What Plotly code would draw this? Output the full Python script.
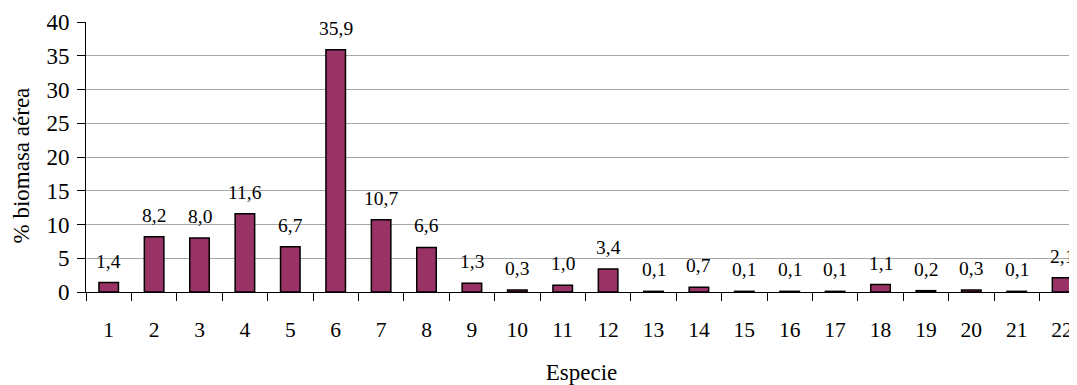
import plotly.graph_objects as go

categories = [str(i) for i in range(1, 23)]
values = [1.4, 8.2, 8.0, 11.6, 6.7, 35.9, 10.7, 6.6, 1.3, 0.3, 1.0, 3.4,
          0.1, 0.7, 0.1, 0.1, 0.1, 1.1, 0.2, 0.3, 0.1, 2.1]
value_labels = [f"{v:.1f}".replace(".", ",") for v in values]
y_ticks = [0, 5, 10, 15, 20, 25, 30, 35, 40]

FONT = "Liberation Serif, Times New Roman, serif"
FS_XTICK = 21.5
FS_YTICK = 23
FS_LABEL = 19.5
FS_TITLE = 23

fig = go.Figure()
fig.add_trace(go.Bar(
    x=categories, y=values,
    marker=dict(color="#993366", line=dict(color="#000000", width=1.5)),
    width=0.43,
    hoverinfo="x+y",
))

for i, (v, t) in enumerate(zip(values, value_labels)):
    fig.add_annotation(x=i, y=v, text=t, showarrow=False, yanchor="bottom",
                       yshift=9, font=dict(family=FONT, size=FS_LABEL, color="#000"))

# y-axis title placed as a rotated annotation
fig.add_annotation(xref="paper", yref="paper", x=-0.0652, y=0.47,
                   text="% biomasa aérea", textangle=-90, showarrow=False,
                   xanchor="center", yanchor="middle", borderpad=0,
                   font=dict(family=FONT, size=FS_TITLE, color="#000"))

# page body has an 8px margin, so the figure is shrunk/offset accordingly
fig.update_layout(
    width=1069, height=377,
    margin=dict(l=78, r=0, t=14, b=93, autoexpand=False),
    paper_bgcolor="white", plot_bgcolor="white",
    font=dict(family=FONT, size=FS_XTICK, color="#000"),
    showlegend=False,
)
fig.update_xaxes(
    type="category", automargin=False,
    range=[-0.5, -0.5 + 991 / 45.4],
    showline=True, linecolor="#000", linewidth=1,
    ticks="outside", tickson="boundaries", ticklen=8, tickcolor="#000", tickwidth=1,
    ticklabelstandoff=18,
    tickfont=dict(family=FONT, size=FS_XTICK),
    showgrid=False, zeroline=False,
    title=dict(text="Especie", font=dict(family=FONT, size=FS_TITLE), standoff=24),
)
fig.update_yaxes(
    range=[0, 40], tickvals=y_ticks, automargin=False,
    showline=True, linecolor="#000", linewidth=1,
    ticks="outside", ticklen=8, tickcolor="#000", tickwidth=1,
    ticklabelstandoff=3,
    tickfont=dict(family=FONT, size=FS_YTICK),
    showgrid=True, gridcolor="#a6a6a6", gridwidth=1,
    zeroline=False,
)

fig.write_html("out.html")
